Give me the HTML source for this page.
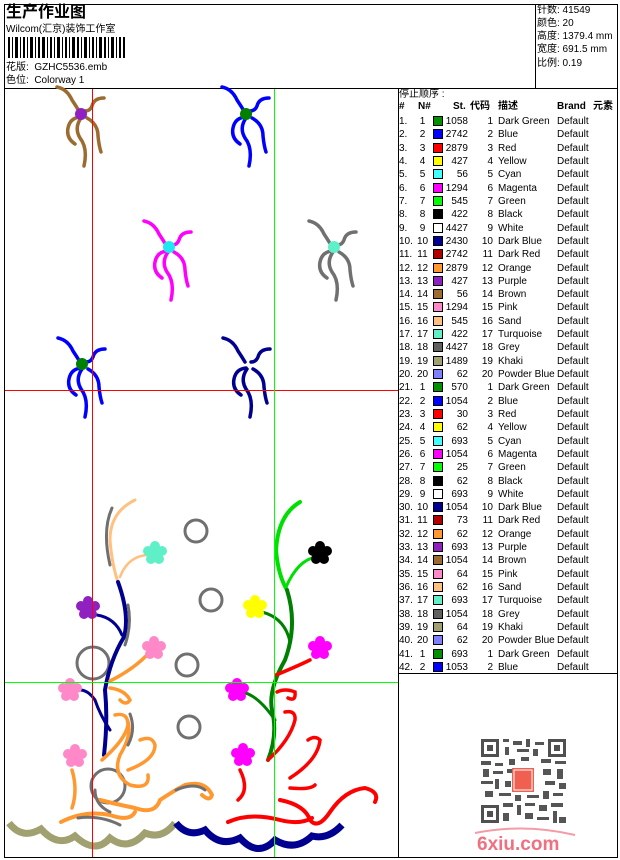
<!DOCTYPE html>
<html><head><meta charset="utf-8"><style>
*{margin:0;padding:0;box-sizing:border-box}
body{width:620px;height:860px;background:#fff;position:relative;font-family:"Liberation Sans","Noto Sans CJK SC",sans-serif;font-size:10px;color:#000;overflow:hidden}
.a{position:absolute;white-space:nowrap;line-height:12px}
.ln{position:absolute;background:#000}
.r{position:absolute;left:398px;width:220px;height:13px;line-height:13px;font-size:10px}
.r span{position:absolute;top:0}
.r .n{left:1px}.r .m{left:18px;width:13px;text-align:center}
.r .s{left:35px;top:1px;width:10px;height:10px;border:1px solid #000}
.r .t{left:46px;width:24px;text-align:right}
.r .c{left:70px;width:25px;text-align:right}
.r .d{left:100px}.r .b{left:159px}
</style></head><body>
<div class="ln" style="left:4px;top:4px;width:614px;height:1px"></div>
<div class="ln" style="left:4px;top:857px;width:614px;height:1px"></div>
<div class="ln" style="left:4px;top:4px;width:1px;height:854px"></div>
<div class="ln" style="left:617px;top:4px;width:1px;height:854px"></div>
<div class="ln" style="left:4px;top:88px;width:614px;height:1px"></div>
<div class="ln" style="left:535px;top:4px;width:1px;height:85px"></div>
<div class="ln" style="left:398px;top:88px;width:1px;height:770px"></div>
<div class="ln" style="left:398px;top:673px;width:220px;height:1px"></div>

<div class="a" style="left:6px;top:4px;font-size:16px;font-weight:bold;line-height:18px">生产作业图</div>
<div class="a" style="left:6px;top:24px">Wilcom(汇京)装饰工作室</div>
<svg style="position:absolute;left:8px;top:37px" width="118" height="21">
<g fill="#000">
<rect x="0" y="0" width="2" height="21"/><rect x="4" y="0" width="1" height="21"/><rect x="7" y="0" width="3" height="21"/><rect x="12" y="0" width="1" height="21"/><rect x="15" y="0" width="2" height="21"/><rect x="19" y="0" width="1" height="21"/><rect x="22" y="0" width="3" height="21"/><rect x="27" y="0" width="1" height="21"/><rect x="30" y="0" width="2" height="21"/><rect x="34" y="0" width="3" height="21"/><rect x="39" y="0" width="1" height="21"/><rect x="42" y="0" width="2" height="21"/><rect x="46" y="0" width="1" height="21"/><rect x="49" y="0" width="3" height="21"/><rect x="54" y="0" width="1" height="21"/><rect x="57" y="0" width="2" height="21"/><rect x="61" y="0" width="1" height="21"/><rect x="64" y="0" width="3" height="21"/><rect x="69" y="0" width="2" height="21"/><rect x="73" y="0" width="1" height="21"/><rect x="76" y="0" width="3" height="21"/><rect x="81" y="0" width="1" height="21"/><rect x="84" y="0" width="2" height="21"/><rect x="88" y="0" width="1" height="21"/><rect x="91" y="0" width="3" height="21"/><rect x="96" y="0" width="2" height="21"/><rect x="100" y="0" width="1" height="21"/><rect x="103" y="0" width="3" height="21"/><rect x="108" y="0" width="1" height="21"/><rect x="111" y="0" width="2" height="21"/><rect x="115" y="0" width="2" height="21"/>
</g></svg>
<div class="a" style="left:6px;top:62px">花版:&nbsp; GZHC5536.emb</div>
<div class="a" style="left:6px;top:75px">色位:&nbsp; Colorway 1</div>

<div class="a" style="left:537px;top:5px">针数:&nbsp;41549</div>
<div class="a" style="left:537px;top:18px">颜色:&nbsp;20</div>
<div class="a" style="left:537px;top:31px">高度:&nbsp;1379.4 mm</div>
<div class="a" style="left:537px;top:44px">宽度:&nbsp;691.5 mm</div>
<div class="a" style="left:537px;top:58px">比例:&nbsp;0.19</div>

<div class="a" style="left:399px;top:89px">停止顺序 :</div>
<div class="a" style="left:398px;top:101px;font-weight:bold;text-decoration:underline;font-size:10px">
<span style="position:absolute;left:1px">#</span><span style="position:absolute;left:20px">N#</span><span style="position:absolute;left:55px">St.</span><span style="position:absolute;left:72px">代码</span><span style="position:absolute;left:100px">描述</span><span style="position:absolute;left:159px">Brand</span><span style="position:absolute;left:195px">元素</span></div>

<div class="r" style="top:115px"><span class="n">1.</span><span class="m">1</span><span class="s" style="background:#009000"></span><span class="t">1058</span><span class="c">1</span><span class="d">Dark Green</span><span class="b">Default</span></div>
<div class="r" style="top:128px"><span class="n">2.</span><span class="m">2</span><span class="s" style="background:#0000ff"></span><span class="t">2742</span><span class="c">2</span><span class="d">Blue</span><span class="b">Default</span></div>
<div class="r" style="top:142px"><span class="n">3.</span><span class="m">3</span><span class="s" style="background:#ff0000"></span><span class="t">2879</span><span class="c">3</span><span class="d">Red</span><span class="b">Default</span></div>
<div class="r" style="top:155px"><span class="n">4.</span><span class="m">4</span><span class="s" style="background:#ffff00"></span><span class="t">427</span><span class="c">4</span><span class="d">Yellow</span><span class="b">Default</span></div>
<div class="r" style="top:168px"><span class="n">5.</span><span class="m">5</span><span class="s" style="background:#40ffff"></span><span class="t">56</span><span class="c">5</span><span class="d">Cyan</span><span class="b">Default</span></div>
<div class="r" style="top:182px"><span class="n">6.</span><span class="m">6</span><span class="s" style="background:#ff00ff"></span><span class="t">1294</span><span class="c">6</span><span class="d">Magenta</span><span class="b">Default</span></div>
<div class="r" style="top:195px"><span class="n">7.</span><span class="m">7</span><span class="s" style="background:#00ff00"></span><span class="t">545</span><span class="c">7</span><span class="d">Green</span><span class="b">Default</span></div>
<div class="r" style="top:208px"><span class="n">8.</span><span class="m">8</span><span class="s" style="background:#000"></span><span class="t">422</span><span class="c">8</span><span class="d">Black</span><span class="b">Default</span></div>
<div class="r" style="top:222px"><span class="n">9.</span><span class="m">9</span><span class="s" style="background:#fff"></span><span class="t">4427</span><span class="c">9</span><span class="d">White</span><span class="b">Default</span></div>
<div class="r" style="top:235px"><span class="n">10.</span><span class="m">10</span><span class="s" style="background:#000090"></span><span class="t">2430</span><span class="c">10</span><span class="d">Dark Blue</span><span class="b">Default</span></div>
<div class="r" style="top:248px"><span class="n">11.</span><span class="m">11</span><span class="s" style="background:#b00000"></span><span class="t">2742</span><span class="c">11</span><span class="d">Dark Red</span><span class="b">Default</span></div>
<div class="r" style="top:262px"><span class="n">12.</span><span class="m">12</span><span class="s" style="background:#ff9830"></span><span class="t">2879</span><span class="c">12</span><span class="d">Orange</span><span class="b">Default</span></div>
<div class="r" style="top:275px"><span class="n">13.</span><span class="m">13</span><span class="s" style="background:#9020c0"></span><span class="t">427</span><span class="c">13</span><span class="d">Purple</span><span class="b">Default</span></div>
<div class="r" style="top:288px"><span class="n">14.</span><span class="m">14</span><span class="s" style="background:#9c6b30"></span><span class="t">56</span><span class="c">14</span><span class="d">Brown</span><span class="b">Default</span></div>
<div class="r" style="top:301px"><span class="n">15.</span><span class="m">15</span><span class="s" style="background:#ff88c8"></span><span class="t">1294</span><span class="c">15</span><span class="d">Pink</span><span class="b">Default</span></div>
<div class="r" style="top:315px"><span class="n">16.</span><span class="m">16</span><span class="s" style="background:#ffc080"></span><span class="t">545</span><span class="c">16</span><span class="d">Sand</span><span class="b">Default</span></div>
<div class="r" style="top:328px"><span class="n">17.</span><span class="m">17</span><span class="s" style="background:#60f0c8"></span><span class="t">422</span><span class="c">17</span><span class="d">Turquoise</span><span class="b">Default</span></div>
<div class="r" style="top:341px"><span class="n">18.</span><span class="m">18</span><span class="s" style="background:#606060"></span><span class="t">4427</span><span class="c">18</span><span class="d">Grey</span><span class="b">Default</span></div>
<div class="r" style="top:355px"><span class="n">19.</span><span class="m">19</span><span class="s" style="background:#a0a070"></span><span class="t">1489</span><span class="c">19</span><span class="d">Khaki</span><span class="b">Default</span></div>
<div class="r" style="top:368px"><span class="n">20.</span><span class="m">20</span><span class="s" style="background:#8080ff"></span><span class="t">62</span><span class="c">20</span><span class="d">Powder Blue</span><span class="b">Default</span></div>
<div class="r" style="top:381px"><span class="n">21.</span><span class="m">1</span><span class="s" style="background:#009000"></span><span class="t">570</span><span class="c">1</span><span class="d">Dark Green</span><span class="b">Default</span></div>
<div class="r" style="top:395px"><span class="n">22.</span><span class="m">2</span><span class="s" style="background:#0000ff"></span><span class="t">1054</span><span class="c">2</span><span class="d">Blue</span><span class="b">Default</span></div>
<div class="r" style="top:408px"><span class="n">23.</span><span class="m">3</span><span class="s" style="background:#ff0000"></span><span class="t">30</span><span class="c">3</span><span class="d">Red</span><span class="b">Default</span></div>
<div class="r" style="top:421px"><span class="n">24.</span><span class="m">4</span><span class="s" style="background:#ffff00"></span><span class="t">62</span><span class="c">4</span><span class="d">Yellow</span><span class="b">Default</span></div>
<div class="r" style="top:435px"><span class="n">25.</span><span class="m">5</span><span class="s" style="background:#40ffff"></span><span class="t">693</span><span class="c">5</span><span class="d">Cyan</span><span class="b">Default</span></div>
<div class="r" style="top:448px"><span class="n">26.</span><span class="m">6</span><span class="s" style="background:#ff00ff"></span><span class="t">1054</span><span class="c">6</span><span class="d">Magenta</span><span class="b">Default</span></div>
<div class="r" style="top:461px"><span class="n">27.</span><span class="m">7</span><span class="s" style="background:#00ff00"></span><span class="t">25</span><span class="c">7</span><span class="d">Green</span><span class="b">Default</span></div>
<div class="r" style="top:475px"><span class="n">28.</span><span class="m">8</span><span class="s" style="background:#000"></span><span class="t">62</span><span class="c">8</span><span class="d">Black</span><span class="b">Default</span></div>
<div class="r" style="top:488px"><span class="n">29.</span><span class="m">9</span><span class="s" style="background:#fff"></span><span class="t">693</span><span class="c">9</span><span class="d">White</span><span class="b">Default</span></div>
<div class="r" style="top:501px"><span class="n">30.</span><span class="m">10</span><span class="s" style="background:#000090"></span><span class="t">1054</span><span class="c">10</span><span class="d">Dark Blue</span><span class="b">Default</span></div>
<div class="r" style="top:514px"><span class="n">31.</span><span class="m">11</span><span class="s" style="background:#b00000"></span><span class="t">73</span><span class="c">11</span><span class="d">Dark Red</span><span class="b">Default</span></div>
<div class="r" style="top:528px"><span class="n">32.</span><span class="m">12</span><span class="s" style="background:#ff9830"></span><span class="t">62</span><span class="c">12</span><span class="d">Orange</span><span class="b">Default</span></div>
<div class="r" style="top:541px"><span class="n">33.</span><span class="m">13</span><span class="s" style="background:#9020c0"></span><span class="t">693</span><span class="c">13</span><span class="d">Purple</span><span class="b">Default</span></div>
<div class="r" style="top:554px"><span class="n">34.</span><span class="m">14</span><span class="s" style="background:#9c6b30"></span><span class="t">1054</span><span class="c">14</span><span class="d">Brown</span><span class="b">Default</span></div>
<div class="r" style="top:568px"><span class="n">35.</span><span class="m">15</span><span class="s" style="background:#ff88c8"></span><span class="t">64</span><span class="c">15</span><span class="d">Pink</span><span class="b">Default</span></div>
<div class="r" style="top:581px"><span class="n">36.</span><span class="m">16</span><span class="s" style="background:#ffc080"></span><span class="t">62</span><span class="c">16</span><span class="d">Sand</span><span class="b">Default</span></div>
<div class="r" style="top:594px"><span class="n">37.</span><span class="m">17</span><span class="s" style="background:#60f0c8"></span><span class="t">693</span><span class="c">17</span><span class="d">Turquoise</span><span class="b">Default</span></div>
<div class="r" style="top:608px"><span class="n">38.</span><span class="m">18</span><span class="s" style="background:#606060"></span><span class="t">1054</span><span class="c">18</span><span class="d">Grey</span><span class="b">Default</span></div>
<div class="r" style="top:621px"><span class="n">39.</span><span class="m">19</span><span class="s" style="background:#a0a070"></span><span class="t">64</span><span class="c">19</span><span class="d">Khaki</span><span class="b">Default</span></div>
<div class="r" style="top:634px"><span class="n">40.</span><span class="m">20</span><span class="s" style="background:#8080ff"></span><span class="t">62</span><span class="c">20</span><span class="d">Powder Blue</span><span class="b">Default</span></div>
<div class="r" style="top:648px"><span class="n">41.</span><span class="m">1</span><span class="s" style="background:#009000"></span><span class="t">693</span><span class="c">1</span><span class="d">Dark Green</span><span class="b">Default</span></div>
<div class="r" style="top:661px"><span class="n">42.</span><span class="m">2</span><span class="s" style="background:#0000ff"></span><span class="t">1053</span><span class="c">2</span><span class="d">Blue</span><span class="b">Default</span></div>

<svg style="position:absolute;left:481px;top:739px" width="85" height="84">
<g fill="#505050">
<rect x="0" y="0" width="18" height="18"/><rect x="67" y="0" width="18" height="18"/><rect x="0" y="66" width="18" height="18"/>
</g>
<g fill="#fff"><rect x="3" y="3" width="12" height="12"/><rect x="70" y="3" width="12" height="12"/><rect x="3" y="69" width="12" height="12"/></g>
<g fill="#505050"><rect x="6" y="6" width="6" height="6"/><rect x="73" y="6" width="6" height="6"/><rect x="6" y="72" width="6" height="6"/></g>
<g fill="#555">
<rect x="22" y="0" width="6" height="3"/><rect x="32" y="2" width="9" height="4"/><rect x="45" y="0" width="4" height="8"/><rect x="54" y="3" width="9" height="3"/><rect x="24" y="8" width="4" height="8"/><rect x="36" y="10" width="12" height="3"/><rect x="52" y="10" width="5" height="7"/>
<rect x="0" y="22" width="10" height="4"/><rect x="14" y="24" width="8" height="3"/><rect x="28" y="20" width="6" height="6"/><rect x="40" y="18" width="8" height="4"/><rect x="60" y="20" width="10" height="4"/><rect x="74" y="22" width="11" height="3"/>
<rect x="2" y="30" width="6" height="8"/><rect x="12" y="32" width="10" height="3"/><rect x="26" y="30" width="6" height="4"/><rect x="62" y="30" width="8" height="6"/><rect x="76" y="30" width="6" height="10"/>
<rect x="0" y="42" width="12" height="3"/><rect x="14" y="40" width="4" height="10"/><rect x="24" y="42" width="6" height="6"/><rect x="64" y="42" width="10" height="4"/><rect x="78" y="44" width="7" height="6"/>
<rect x="4" y="52" width="8" height="6"/><rect x="18" y="54" width="12" height="3"/><rect x="34" y="56" width="6" height="6"/><rect x="46" y="56" width="12" height="3"/><rect x="62" y="52" width="6" height="8"/><rect x="72" y="54" width="10" height="3"/>
<rect x="22" y="64" width="10" height="4"/><rect x="36" y="66" width="4" height="10"/><rect x="44" y="64" width="10" height="3"/><rect x="58" y="66" width="8" height="6"/><rect x="70" y="64" width="12" height="4"/>
<rect x="22" y="74" width="6" height="8"/><rect x="44" y="74" width="8" height="6"/><rect x="56" y="78" width="12" height="3"/><rect x="72" y="72" width="4" height="12"/><rect x="78" y="78" width="7" height="6"/>
</g>
<rect x="31" y="29" width="22" height="24" fill="#f06050"/>
<rect x="33" y="31" width="18" height="20" fill="none" stroke="#fff" stroke-width="1"/>
</svg>
<svg style="position:absolute;left:470px;top:825px" width="110" height="30">
<path d="M5,8 Q55,-2 105,10" stroke="#f07080" stroke-width="2" fill="none" opacity=".7"/>
<text x="7" y="25" font-family="Liberation Sans,sans-serif" font-weight="bold" font-size="19" fill="#f07080">6xiu.com</text>
</svg>

<svg style="position:absolute;left:0;top:0" width="398" height="858">
<defs>
<g id="sp" fill="none" stroke-width="3.5" stroke-linecap="round">
<path d="M-25,-27 Q-15,-25 -10,-14 Q-6,-8 -3,-3"/>
<path d="M22,-16 Q12,-16 10,-8 Q8,-3 3,-3"/>
<path d="M-2,3 Q-12,4 -14,14 Q-16,24 -7,30"/>
<path d="M-1,4 Q-8,14 -2,24 Q6,34 2,52"/>
<path d="M5,4 Q16,10 16,22 Q17,32 19,38"/>
</g>
<g id="fl"><circle cx="0" cy="-7" r="5"/><circle cx="7" cy="-2" r="5"/><circle cx="4" cy="6" r="5"/><circle cx="-4" cy="6" r="5"/><circle cx="-7" cy="-2" r="5"/><circle r="4"/></g>
</defs>
<use href="#sp" x="82" y="114" stroke="#9c6b30"/><circle cx="81" cy="114" r="6" fill="#9020c0"/>
<use href="#sp" x="247" y="114" stroke="#0000ff"/><circle cx="246" cy="114" r="6" fill="#008000"/>
<use href="#sp" x="169" y="248" stroke="#ff00ff"/><circle cx="169" cy="247" r="6" fill="#20e8f0"/>
<use href="#sp" x="334" y="248" stroke="#707070"/><circle cx="334" cy="247" r="6" fill="#60f0c8"/>
<use href="#sp" x="83" y="365" stroke="#0000ff"/><circle cx="82" cy="364" r="6" fill="#008000"/>
<use href="#sp" x="248" y="365" stroke="#000090"/>

<g fill="none" stroke="#707070" stroke-width="3">
<circle cx="196" cy="531" r="11"/><circle cx="211" cy="600" r="11"/><circle cx="187" cy="665" r="11"/><circle cx="189" cy="727" r="11"/><circle cx="93" cy="663" r="16"/><circle cx="108" cy="786" r="17"/>
</g>
<g fill="none" stroke-linecap="round">
<path d="M112,508 Q102,530 110,565" stroke="#707070" stroke-width="3"/>
<path d="M135,500 Q110,512 110,540 Q112,565 118,582" stroke="#ffc080" stroke-width="3"/>
<path d="M120,577 Q128,556 148,555" stroke="#ffc080" stroke-width="2.5"/>
<path d="M118,582 Q130,615 124,637 Q110,660 105,690 Q108,720 104,755" stroke="#000090" stroke-width="4"/>
<path d="M97,615 Q115,618 122,635" stroke="#000090" stroke-width="3"/>
<path d="M128,605 Q132,625 125,645" stroke="#707070" stroke-width="3"/>
<path d="M110,681 Q132,670 146,656" stroke="#ff9830" stroke-width="3.5"/>
<path d="M80,690 Q88,690 95,700 Q100,715 110,730" stroke="#000090" stroke-width="3"/>
<path d="M110,688 Q125,690 130,700 Q126,706 120,700" stroke="#ff9830" stroke-width="3.5"/>
<path d="M102,760 Q125,740 128,725 Q128,712 115,715" stroke="#ff9830" stroke-width="3.5"/>
<path d="M128,722 Q132,735 120,755 Q112,775 130,785 Q150,790 148,775" stroke="#ff9830" stroke-width="3.5"/>
<path d="M128,770 Q155,760 155,745 Q152,735 140,740" stroke="#ff9830" stroke-width="3.5"/>
<path d="M72,770 Q78,790 72,808" stroke="#ff9830" stroke-width="3.5"/>
<path d="M100,800 Q120,805 135,808 Q155,815 160,800 Q175,790 185,785 Q205,780 212,795 Q210,802 202,795" stroke="#ff9830" stroke-width="4"/>
<path d="M61,822 Q85,810 110,815 Q130,822 135,812" stroke="#ff9830" stroke-width="4"/>
<path d="M78,818 Q100,815 120,825" stroke="#707070" stroke-width="3"/>
<path d="M176,790 Q195,782 205,790" stroke="#707070" stroke-width="3"/>
<path d="M130,714 Q136,730 128,745" stroke="#707070" stroke-width="3"/>
<path d="M95,790 Q95,805 110,812" stroke="#707070" stroke-width="3"/>
</g>
<g fill="#9020c0"><use href="#fl" x="88" y="608"/></g>
<g fill="#60f0c8"><use href="#fl" x="155" y="553"/></g>
<g fill="#ff88c8"><use href="#fl" x="154" y="648"/><use href="#fl" x="70" y="690"/><use href="#fl" x="75" y="756"/></g>
<g fill="none" stroke-linecap="round">
<path d="M300,502 Q278,515 276,550 Q278,575 287,590" stroke="#00e000" stroke-width="4"/>
<path d="M286,587 Q298,560 316,557" stroke="#00e000" stroke-width="3"/>
<path d="M287,590 Q298,625 285,660 Q268,690 272,710 Q278,735 268,760" stroke="#008000" stroke-width="4"/>
<path d="M262,612 Q285,618 290,642" stroke="#008000" stroke-width="3"/>
<path d="M242,692 Q258,695 275,720" stroke="#008000" stroke-width="3"/>
<path d="M276,675 Q300,665 310,660" stroke="#ff0000" stroke-width="3.5"/>
<path d="M277,692 Q285,688 295,692 Q296,702 288,698" stroke="#ff0000" stroke-width="3.5"/>
<path d="M268,760 Q290,740 295,720 Q296,710 285,712" stroke="#ff0000" stroke-width="3.5"/>
<path d="M240,770 Q250,790 238,800" stroke="#ff0000" stroke-width="3.5"/>
<path d="M290,778 Q318,760 320,740 Q315,735 308,740" stroke="#ff0000" stroke-width="3.5"/>
<path d="M290,788 Q310,790 315,785" stroke="#ff0000" stroke-width="3.5"/>
<path d="M280,800 Q305,805 310,820 Q318,830 330,812 Q345,790 365,788 Q380,792 375,802" stroke="#ff0000" stroke-width="4"/>
<path d="M228,822 Q250,812 280,820 Q300,825 312,818" stroke="#ff0000" stroke-width="4"/>
</g>
<g fill="#000"><use href="#fl" x="320" y="553"/></g>
<g fill="#ffff00"><use href="#fl" x="255" y="607"/></g>
<g fill="#ff00ff"><use href="#fl" x="320" y="648"/><use href="#fl" x="237" y="690"/><use href="#fl" x="243" y="755"/></g>
<path d="M9,823 Q22,840 41,829 Q58,848 75,836 Q95,855 110,838 Q128,852 145,833 Q162,840 175,823" fill="none" stroke="#a0a070" stroke-width="7"/>
<path d="M176,823 Q188,838 205,830 Q220,848 240,838 Q258,858 275,840 Q295,852 312,836 Q328,840 342,825" fill="none" stroke="#000090" stroke-width="7"/>
<rect x="92" y="89" width="1" height="768" fill="#ff0000"/>
<rect x="5" y="390" width="393" height="1" fill="#ff0000"/>
<rect x="274" y="89" width="1" height="768" fill="#00ff00"/>
<rect x="5" y="682" width="393" height="1" fill="#00ff00"/>
</svg>
</body></html>
